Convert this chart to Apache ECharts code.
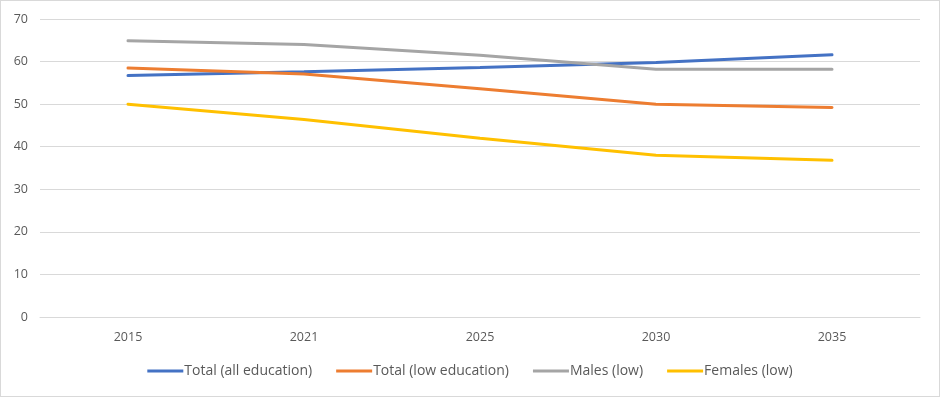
<!DOCTYPE html>
<html>
<head>
<meta charset="utf-8">
<script src="https://cdn.jsdelivr.net/npm/echarts@6/dist/echarts.min.js"></script>
<style>
html, body { margin: 0; padding: 0; background: #fff; }
#chart { width: 938px; height: 395px; border: 1px solid #d9d9d9; }
</style>
</head>
<body>
<div id="chart"></div>
<script>
var years = ['2015', '2021', '2025', '2030', '2035'];
var totalAll = [56.7, 57.6, 58.6, 59.8, 61.6];   // Total (all education)
var totalLow = [58.5, 57.1, 53.6, 50.0, 49.2];   // Total (low education)
var malesLow = [64.9, 64.0, 61.5, 58.2, 58.2];   // Males (low)
var femalesLow = [50.0, 46.4, 42.0, 38.0, 36.8]; // Females (low)

var names = ['Total (all education)', 'Total (low education)', 'Males (low)', 'Females (low)'];
var colors = ['#4472C4', '#ED7D31', '#A5A5A5', '#FFC000'];
var datas = [totalAll, totalLow, malesLow, femalesLow];

var series = [];
for (var i = 0; i < names.length; i++) {
    series.push({
        name: names[i],
        type: 'line',
        data: datas[i],
        symbol: 'none',
        lineStyle: { width: 3, color: colors[i], cap: 'round' },
        itemStyle: { color: colors[i] }
    });
}

var myChart = echarts.init(document.getElementById('chart'));
var option = {
    animation: false,
    textStyle: { fontFamily: 'Open Sans' },
    grid: { left: 39, right: 19, top: 18, bottom: 79 },
    legend: {
        data: names,
        bottom: 13,
        left: 'center',
        itemWidth: 36,
        itemHeight: 3,
        itemGap: 24,
        icon: 'rect',
        textStyle: { color: '#595959', fontSize: 14, fontFamily: 'Open Sans', padding: [0, 0, 0, -4] }
    },
    xAxis: {
        type: 'category',
        data: years,
        boundaryGap: true,
        axisLine: { show: true, lineStyle: { color: '#d9d9d9' } },
        axisTick: { show: false },
        axisLabel: { color: '#595959', fontSize: 12.5, margin: 14 }
    },
    yAxis: {
        type: 'value',
        min: 0,
        max: 70,
        interval: 10,
        axisLine: { show: false },
        axisTick: { show: false },
        axisLabel: { color: '#595959', fontSize: 12.5, margin: 12 },
        splitLine: { lineStyle: { color: '#d9d9d9', width: 1 } }
    },
    series: series
};
myChart.setOption(option);
</script>
</body>
</html>
